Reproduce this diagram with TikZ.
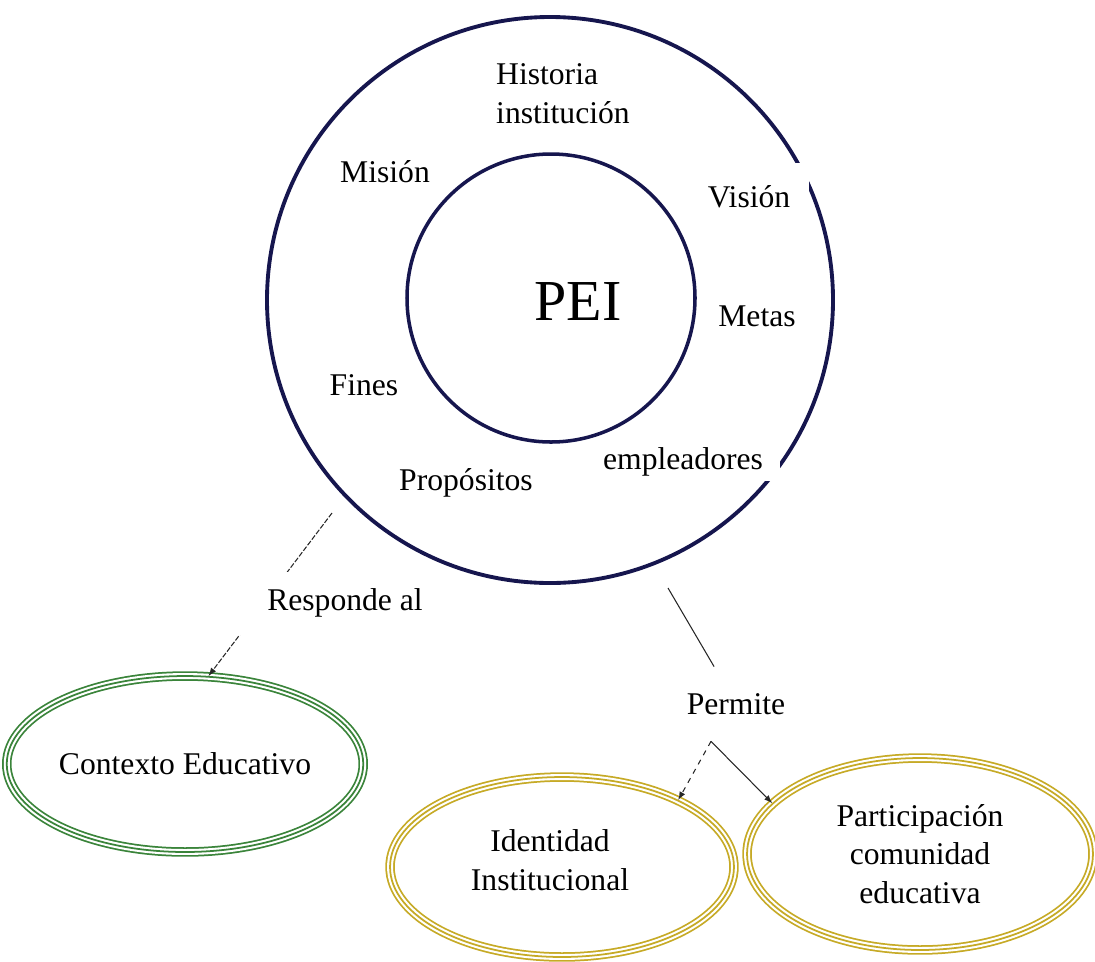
\documentclass[tikz,border=0pt]{standalone}
\usepackage{fontspec}
\setmainfont{Liberation Serif}
\usetikzlibrary{arrows,shapes.geometric}
\definecolor{peiblue}{RGB}{22,22,78}
\definecolor{ctxgreen}{RGB}{58,132,58}
\definecolor{idgold}{RGB}{198,170,38}

\begin{document}
\begin{tikzpicture}[x = 0.02cm, y = -0.02cm,
	every node/.style = {font = \fontsize{18}{22}\selectfont, align = center},
	tripleline/.style = {ellipse, draw = #1, line width = 1pt, inner sep = 0pt,
		preaction = {draw = #1, line width = 5.4pt},
		preaction = {draw = white, line width = 3.4pt}},
	blank/.style = {fill = white, inner sep = 0pt},
	conn/.style = {draw = black!85, line width = 0.6pt}]
	\useasboundingbox (0,0) rectangle (1095,961);
	% the two rings
	\draw [line width = 2.2pt, peiblue] (550,300) circle (283);
	\draw [line width = 2pt, peiblue] (551,298) circle (144);
	\node (pei) at (578,302) {\fontsize{33}{38}\selectfont PEI};
	\node (hist) [anchor = west, align = left] at (490,94) {Historia\\institución};
	\node (mision) at (385,172) {Misión};
	\node (vision) [blank, minimum width = 2.4cm, minimum height = 1.36cm] at (749,197) {Visión};
	\node (metas) at (757,316) {Metas};
	\node (fines) at (364,385) {Fines};
	\node (prop) at (466,483) {Propósitos};
	\node (empl) [blank, minimum width = 3.9cm, minimum height = 0.76cm] at (683,462) {empleadores};
	% ellipses below
	\node (ctx) [tripleline = ctxgreen, minimum width = 6.8cm, minimum height = 3.52cm] at (185,764) {Contexto Educativo};
	\node (idn) [tripleline = idgold, minimum width = 6.88cm, minimum height = 3.6cm] at (562,867) {};
	\node (part) [tripleline = idgold, minimum width = 6.92cm, minimum height = 3.84cm] at (920,854) {Participación\\comunidad\\educativa};
	\node (idtxt) [blank, minimum width = 4.4cm, minimum height = 1.9cm] at (550,860) {Identidad\\Institucional};
	% connectors
	\coordinate (r0) at (332,513);
	\draw [conn, dash pattern = on 3pt off 1pt, -latex] (r0) -- (ctx.75);
	\node (resp) [blank, minimum width = 4.8cm, minimum height = 1.26cm] at (345,603) {Responde al};
	\node (perm) [blank, minimum width = 2.2cm, minimum height = 1.48cm] at (736,704) {Permite};
	\coordinate (p0) at (668,588);
	\draw [conn] (p0) -- (perm);
	\draw [conn, dashed, -latex] ([xshift = -0.5cm]perm.south) -- (idn.30);
	\draw [conn, -latex] ([xshift = -0.5cm]perm.south) -- (part.161);
\end{tikzpicture}
\end{document}
